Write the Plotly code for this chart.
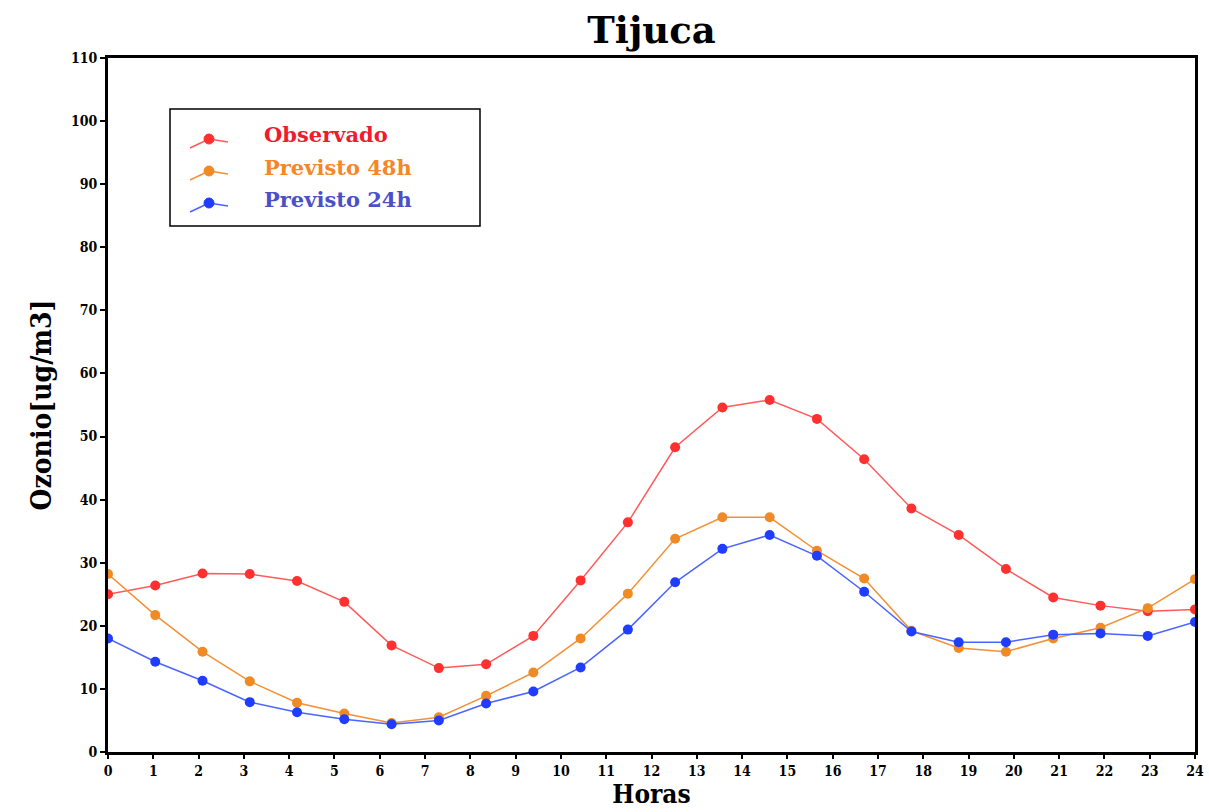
import plotly.graph_objects as go

# ---- data ----
hours_ticks = list(range(0, 25))
sample_index = [0, 1, 2, 3, 4, 5, 6, 7, 8, 9, 10, 11, 12, 13, 14, 15, 16, 17, 18, 19, 20, 21, 22, 23]

observado = [25.0, 26.4, 28.3, 28.2, 27.1, 23.8, 16.9, 13.3, 13.9, 18.4, 27.2, 36.4,
             48.3, 54.6, 55.8, 52.8, 46.4, 38.6, 34.4, 29.0, 24.5, 23.2, 22.3, 22.6]
previsto48 = [28.2, 21.7, 15.9, 11.2, 7.8, 6.1, 4.6, 5.5, 8.9, 12.6, 18.0, 25.1,
              33.8, 37.2, 37.2, 31.9, 27.5, 19.2, 16.5, 15.9, 18.0, 19.7, 22.8, 27.4]
previsto24 = [18.0, 14.3, 11.3, 7.9, 6.3, 5.2, 4.4, 5.0, 7.7, 9.6, 13.4, 19.4,
              26.9, 32.2, 34.4, 31.1, 25.4, 19.1, 17.4, 17.4, 18.6, 18.8, 18.4, 20.6]

series_names = ["Observado", "Previsto 48h", "Previsto 24h"]
line_colors = ["#ff5a5a", "#f39035", "#4a64ff"]
marker_colors = ["#ff3030", "#f08a24", "#1f3cff"]
text_colors = ["#ee1c2e", "#f5862a", "#4a50c8"]

W, H = 1209, 812
L, R, T, B = 108, 14, 58, 60
PW, PH = W - L - R, H - T - B

fig = go.Figure()

# empty trace so that the visible hour axis (x / y subplot) is created
fig.add_trace(go.Scatter(x=[], y=[], xaxis="x", yaxis="y", showlegend=False, hoverinfo="skip"))

for name, vals, lc, mc in zip(series_names, [observado, previsto48, previsto24], line_colors, marker_colors):
    fig.add_trace(go.Scatter(
        x=sample_index, y=vals, xaxis="x2", yaxis="y",
        mode="lines+markers", name=name, showlegend=False,
        line=dict(color=lc, width=1.5),
        marker=dict(color=mc, size=10, symbol="circle"),
    ))

tick_font = dict(family="DejaVu Serif Condensed, DejaVu Serif", size=14, color="black", weight="bold")
label_font = dict(family="DejaVu Serif Condensed, DejaVu Serif", size=26, color="black", weight="bold")
ylabel_font = dict(family="DejaVu Serif Condensed, DejaVu Serif", size=28, color="black", weight="bold")

fig.update_layout(
    width=W, height=H,
    margin=dict(l=L, r=R, t=T, b=B),
    paper_bgcolor="white", plot_bgcolor="white",
    title=dict(text="Tijuca", x=(L + (W - R)) / 2 / W, xanchor="center", y=1 - 30 / H, yanchor="middle",
               font=dict(family="DejaVu Serif", size=37, color="black", weight="bold")),
    xaxis=dict(range=[0, 24], tickmode="array", tickvals=hours_ticks,
               ticktext=[str(h) for h in hours_ticks], automargin=False,
               showgrid=False, zeroline=False, showline=True, linecolor="black", linewidth=3,
               mirror=True, ticks="outside", ticklen=4, tickwidth=2, tickcolor="black",
               tickfont=tick_font,
               title=dict(text="Horas", standoff=6, font=label_font)),
    xaxis2=dict(range=[0, 23], overlaying="x", visible=False),
    yaxis=dict(range=[0, 110], dtick=10, tick0=0, automargin=False,
               showgrid=False, zeroline=False, showline=True, linecolor="black", linewidth=3,
               mirror=True, ticks="outside", ticklen=5, tickwidth=2, tickcolor="black",
               tickfont=tick_font,
               title=dict(text="Ozonio[ug/m3]", standoff=12, font=ylabel_font)),
)

# ---- custom legend box (pixel positions converted to paper coords) ----
def px_x(p):
    return (p - L) / PW

def px_y(p):
    return (H - B - p) / PH

fig.add_shape(type="rect", xref="paper", yref="paper",
              x0=px_x(170), x1=px_x(480), y0=px_y(226), y1=px_y(109),
              line=dict(color="black", width=1.5), fillcolor="white", layer="above")

rows_y = [135, 167, 199]
for name, ry, lc, mc, tc in zip(series_names, rows_y, line_colors, marker_colors, text_colors):
    fig.add_shape(type="line", xref="paper", yref="paper",
                  x0=px_x(190), x1=px_x(209), y0=px_y(ry + 13), y1=px_y(ry + 4),
                  line=dict(color=lc, width=1.5), layer="above")
    fig.add_shape(type="line", xref="paper", yref="paper",
                  x0=px_x(209), x1=px_x(228), y0=px_y(ry + 4), y1=px_y(ry + 7),
                  line=dict(color=lc, width=1.5), layer="above")
    fig.add_shape(type="circle", xref="paper", yref="paper",
                  x0=px_x(204), x1=px_x(214), y0=px_y(ry + 9), y1=px_y(ry - 1),
                  line=dict(color=mc, width=1), fillcolor=mc, layer="above")
    fig.add_annotation(xref="paper", yref="paper", x=px_x(262), y=px_y(ry),
                       xanchor="left", yanchor="middle", showarrow=False,
                       text=name, font=dict(family="DejaVu Serif", size=21, color=tc, weight="bold"))

fig.write_html("out.html")
